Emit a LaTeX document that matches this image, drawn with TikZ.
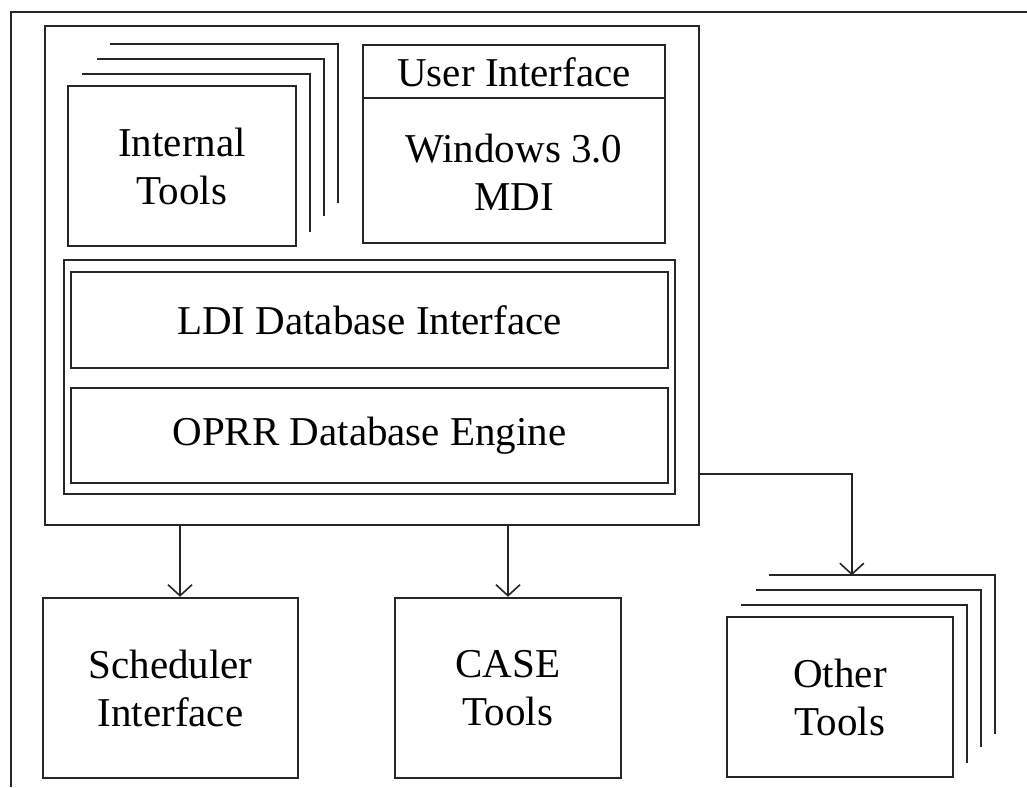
\documentclass[tikz,border=0pt]{standalone}
\usepackage{fontspec}
\setmainfont{Liberation Serif}
\usetikzlibrary{arrows.meta}

% three offset outlines behind a node, to show a stack of copies
\newcommand\stacklayers[1]{%
  \foreach \l/\t/\r/\b in {15/11/12.5/15.5, 30/26/27/31.5, 43.5/40.5/40.5/44.5}{%
    \draw[layerline] ([xshift=\l pt,yshift=\t pt]#1.north west) -| ([xshift=\r pt,yshift=\b pt]#1.south east);
  }%
}

\tikzset{
  boxline/.style={line width=2.4pt, draw=black!85},
  layerline/.style={line width=2.4pt, draw=black!85},
  box/.style={boxline, rectangle, inner sep=0pt, align=center,
    font=\fontsize{41}{48}\selectfont},
  conn/.style={line width=1.6pt, draw=black!85,
    -{Straight Barb[length=11pt,width=24pt,line width=1.6pt]}},
  frameline/.style={line width=2.2pt, draw=black!85},
}

\begin{document}
\begin{tikzpicture}[x=1pt,y=1pt]
  \useasboundingbox (0,0) rectangle (1027,787);
  \fill[white] (0,0) rectangle (1027,787);

  % open frame round the figure
  \coordinate (fl) at (11,0);
  \coordinate (fc) at (11,775);
  \coordinate (fr) at (1027,775);
  \draw[frameline] (fl) -- (fc) -- (fr);

  % the workbench container
  \node[box, minimum width=654, minimum height=499] (main) at (372,511.5) {};

  % internal tools (stacked)
  \node[box, fill=white, minimum width=228, minimum height=160] (it) at (182,621)
    {Internal\\Tools};
  \stacklayers{it}

  % user interface
  \node[box, minimum width=302, minimum height=198] (ui) at (514,643) {};
  \node[font=\fontsize{41}{48}\selectfont, inner sep=0pt] (uit) at (514,715) {User Interface};
  \node[font=\fontsize{41}{48}\selectfont, inner sep=0pt, align=center] (uib) at (514,615)
    {Windows 3.0\\MDI};
  \draw[boxline] ([yshift=-54pt]ui.north west) -- ([yshift=-54pt]ui.north east);

  % database layers
  \node[box, minimum width=611, minimum height=234] (db) at (369.5,410) {};
  \node[box, minimum width=597, minimum height=96] (ldi) at (369.5,467) {LDI Database Interface};
  \node[box, minimum width=597, minimum height=95] (oprr) at (369.5,351.5) {OPRR Database Engine};

  % external components
  \node[box, minimum width=255, minimum height=180] (sched) at (170.5,99) {Scheduler\\Interface};
  \node[box, minimum width=226, minimum height=180] (case) at (508,99) {CASE\\Tools};
  \node[box, fill=white, minimum width=226, minimum height=160] (other) at (840,90) {Other\\Tools};
  \stacklayers{other}

  % connectors
  \coordinate (sa) at ([xshift=9.5pt]sched.north);
  \draw[conn] (sa |- main.south) -- (sa);
  \draw[conn] (case.north |- main.south) -- (case.north);
  \coordinate (tap) at ([yshift=-198.5pt]main.east);
  \coordinate (otop) at ([xshift=126pt,yshift=40.5pt]other.north west);
  \draw[conn] (tap) -| (otop);
\end{tikzpicture}
\end{document}
